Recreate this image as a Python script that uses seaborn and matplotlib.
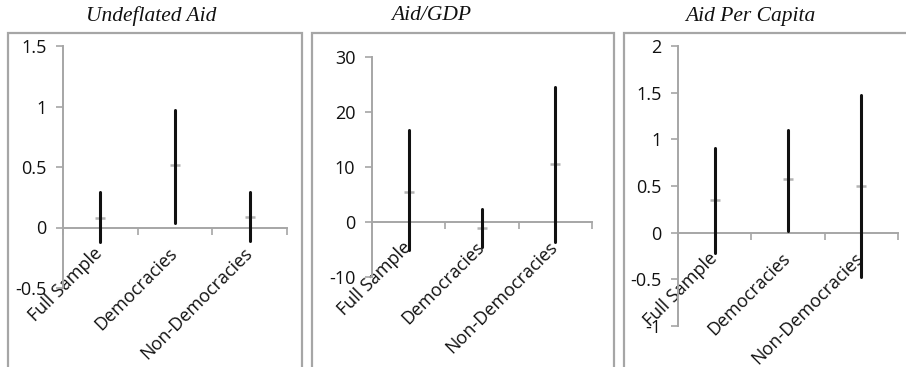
import numpy as np
import pandas as pd
import matplotlib
matplotlib.use("Agg")
import matplotlib.pyplot as plt
import matplotlib.transforms as mtransforms
from matplotlib.patches import Rectangle
import seaborn as sns

# ---------- data ----------
categories = ["Full Sample", "Democracies", "Non-Democracies"]
panel_titles = ["Undeflated Aid", "Aid/GDP", "Aid Per Capita"]

undeflated_point = [0.075, 0.52, 0.09]
undeflated_low = [-0.12, 0.04, -0.11]
undeflated_high = [0.29, 0.975, 0.29]

gdp_point = [5.5, -1.1, 10.5]
gdp_low = [-5.1, -4.5, -3.7]
gdp_high = [16.7, 2.4, 24.5]

percap_point = [0.345, 0.57, 0.50]
percap_low = [-0.22, 0.02, -0.48]
percap_high = [0.91, 1.10, 1.47]

y_ticks = [
    [-0.5, 0, 0.5, 1, 1.5],
    [-10, 0, 10, 20, 30],
    [-1, -0.5, 0, 0.5, 1, 1.5, 2],
]
y_ticklabels = [
    ["-0.5", "0", "0.5", "1", "1.5"],
    ["-10", "0", "10", "20", "30"],
    ["-1", "-0.5", "0", "0.5", "1", "1.5", "2"],
]

W, H = 906, 367
GRAY = "#a6a6a6"
FS = 13

sns.set_style("white")
plt.rcParams["font.family"] = ["Open Sans", "DejaVu Sans"]

fig = plt.figure(figsize=(W / 100, H / 100), dpi=100)

# axes boxes in pixels: left, right, top, bottom
boxes = [(63, 287, 46, 288), (372, 592, 57, 277), (678, 898, 46, 326)]
frames = [(8, 302), (312, 614), (624, 920)]
title_x = [151, 431, 750]

series = [
    (undeflated_point, undeflated_low, undeflated_high),
    (gdp_point, gdp_low, gdp_high),
    (percap_point, percap_low, percap_high),
]

# chart-area borders
for fl, fr in frames:
    fig.patches.append(Rectangle((fl / W, -0.1), (fr - fl) / W, 1.1 - 33 / H,
                                 transform=fig.transFigure, fill=False,
                                 edgecolor=GRAY, lw=1.6, zorder=0))

for i, (point, low, high) in enumerate(series):
    l, r, t, b = boxes[i]
    ax = fig.add_axes([l / W, (H - b) / H, (r - l) / W, (b - t) / H])
    ax.patch.set_alpha(0)

    pos = list(range(len(categories)))
    rng = pd.DataFrame({
        "pos": pos + pos,
        "value": low + high,
        "group": categories + categories,
    })
    pts = pd.DataFrame({"pos": pos, "value": point})

    sns.scatterplot(data=pts, x="pos", y="value", marker="_", s=45,
                    color="#b4b4b4", linewidth=1.8, ax=ax, zorder=2)
    sns.lineplot(data=rng, x="pos", y="value", units="group", estimator=None,
                 color="#111111", lw=2.2, sort=False, ax=ax, zorder=3)

    ax.set_xlim(-0.5, 2.5)
    ax.set_ylim(y_ticks[i][0], y_ticks[i][-1])
    ax.set_xlabel("")
    ax.set_ylabel("")

    for s in ["top", "right"]:
        ax.spines[s].set_visible(False)
    ax.spines["bottom"].set_position(("data", 0))
    for s in ["left", "bottom"]:
        ax.spines[s].set_color(GRAY)
        ax.spines[s].set_linewidth(1.4)

    ax.set_yticks(y_ticks[i])
    ax.set_yticklabels(y_ticklabels[i])
    ax.tick_params(axis="y", length=5, width=1.2, color=GRAY, pad=7,
                   labelsize=FS, labelcolor="#111111", left=True)

    ax.set_xticks([-0.5, 0.5, 1.5, 2.5])
    ax.set_xticklabels([])
    ax.tick_params(axis="x", which="major", length=5, width=1.2, color=GRAY,
                   bottom=True, direction="out")
    ax.set_xticks(pos, categories, minor=True)
    ax.tick_params(axis="x", which="minor", length=0, pad=12,
                   labelsize=FS, labelcolor="#111111")
    offset = mtransforms.ScaledTranslation(6 / 100, 0, fig.dpi_scale_trans)
    for lab in ax.get_xticklabels(minor=True):
        lab.set_rotation(45)
        lab.set_ha("right")
        lab.set_va("top")
        lab.set_transform(lab.get_transform() + offset)

    fig.text(title_x[i] / W, 1 - 16 / H, panel_titles[i], ha="center",
             va="center", fontsize=15.5, fontstyle="italic",
             family=["Liberation Serif", "DejaVu Serif"], color="#111111")

fig.savefig("out.png", dpi=100)
